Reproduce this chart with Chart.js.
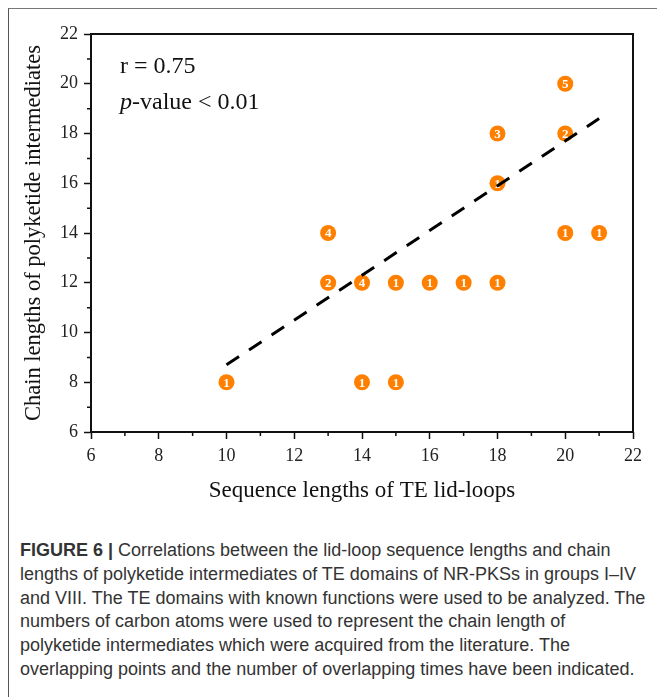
<!DOCTYPE html>
<html>
<head>
<meta charset="utf-8">
<script src="https://cdn.jsdelivr.net/npm/chart.js@4"></script>
<style>
  html, body { margin: 0; padding: 0; background: #fff; }
  #wrap { position: relative; width: 657px; height: 697px; overflow: hidden; }
  #frame { position: absolute; left: 8px; top: 8px; width: 660px; height: 700px;
           border-left: 1.5px solid #555; border-top: 1.5px solid #777; }
  #chart { position: absolute; left: 0; top: 0; }
  .note { position: absolute; left: 120px; font: 24px "Liberation Serif", serif; color: #111; white-space: nowrap; line-height: 26px; }
  #caption { position: absolute; left: 20px; top: 539px; font: 18px "Liberation Sans", sans-serif; color: #333; line-height: 23.8px; }
  #caption div { white-space: nowrap; }
</style>
</head>
<body>
<div id="wrap">
  <div id="frame"></div>
  <canvas id="chart" width="657" height="510"></canvas>
  <div class="note" style="top:52px">r = 0.75</div>
  <div class="note" style="top:88px"><i>p</i>-value &lt; 0.01</div>
  <div id="caption">
    <div><b>FIGURE 6 |</b> Correlations between the lid-loop sequence lengths and chain</div>
    <div>lengths of polyketide intermediates of TE domains of NR-PKSs in groups I–IV</div>
    <div>and VIII. The TE domains with known functions were used to be analyzed. The</div>
    <div>numbers of carbon atoms were used to represent the chain length of</div>
    <div>polyketide intermediates which were acquired from the literature. The</div>
    <div>overlapping points and the number of overlapping times have been indicated.</div>
  </div>
</div>
<script>
// lid-loop length (x), chain length (y), how many entries overlap at that point
const loopLengths  = [10, 14, 15, 13, 14, 15, 16, 17, 18, 13, 20, 21, 18, 18, 20, 20];
const chainLengths = [ 8,  8,  8, 12, 12, 12, 12, 12, 12, 14, 14, 14, 16, 18, 18, 20];
const overlapCounts = [1,  1,  1,  2,  4,  1,  1,  1,  1,  4,  1,  1,  1,  3,  2,  5];

// fitted line ends
const fitX = [10, 21];
const fitY = [8.7, 18.6];

const xTicks = [6, 8, 10, 12, 14, 16, 18, 20, 22];
const yTicks = [6, 8, 10, 12, 14, 16, 18, 20, 22];

const orange = "rgb(255,128,0)";
const serif = "'Liberation Serif', 'Times New Roman', serif";

const points = loopLengths.map((x, i) => ({x: x, y: chainLengths[i]}));
const fitLine = fitX.map((x, i) => ({x: x, y: fitY[i]}));

// numbers inside the circles, drawn right after the scatter so the dashed line sits on top
const countLabels = {
    id: "countLabels",
    afterDatasetDraw(chart, args) {
        if (args.index !== 1) return;
        const ctx = chart.ctx;
        ctx.save();
        ctx.fillStyle = "#fff";
        ctx.font = "bold 13px " + serif;
        ctx.textAlign = "center";
        ctx.textBaseline = "middle";
        args.meta.data.forEach((pt, i) => {
            ctx.fillText(String(overlapCounts[i]), pt.x, pt.y + 1);
        });
        ctx.restore();
    }
};

// box round the plot + short minor ticks at the odd values
const plotFrame = {
    id: "plotFrame",
    afterDraw(chart) {
        const {ctx, chartArea: a, scales} = chart;
        ctx.save();
        ctx.strokeStyle = "#111";
        ctx.lineWidth = 2;
        ctx.strokeRect(a.left, a.top, a.right - a.left, a.bottom - a.top);
        ctx.lineWidth = 1.5;
        ctx.beginPath();
        for (let v = 7; v < 22; v += 2) {
            const px = scales.x.getPixelForValue(v);
            ctx.moveTo(px, a.bottom);
            ctx.lineTo(px, a.bottom + 4);
            const py = scales.y.getPixelForValue(v);
            ctx.moveTo(a.left, py);
            ctx.lineTo(a.left - 4, py);
        }
        ctx.stroke();
        ctx.restore();
    }
};

new Chart(document.getElementById("chart"), {
    type: "scatter",
    data: {
        datasets: [
            {
                type: "line",
                label: "fit",
                data: fitLine,
                borderColor: "#000",
                borderWidth: 3,
                borderDash: [15, 12],
                pointRadius: 0,
                fill: false
            },
            {
                label: "TE domains",
                data: points,
                backgroundColor: orange,
                borderColor: orange,
                borderWidth: 0,
                pointRadius: 8,
                pointHoverRadius: 8
            }
        ]
    },
    options: {
        responsive: false,
        devicePixelRatio: 1,
        animation: false,
        layout: {padding: {top: 34, right: 24, left: 0, bottom: 0}},
        plugins: {legend: {display: false}, tooltip: {enabled: false}},
        scales: {
            x: {
                type: "linear",
                min: 6, max: 22,
                afterBuildTicks: s => { s.ticks = xTicks.map(v => ({value: v})); },
                afterFit: s => { s.height = 78; },
                grid: {drawOnChartArea: false, drawTicks: true, tickLength: 7, tickColor: "#111", tickWidth: 1.5},
                border: {display: false},
                ticks: {color: "#222", padding: 6, font: {family: serif, size: 18}},
                title: {display: true, text: "Sequence lengths of TE lid-loops", color: "#111",
                        font: {family: serif, size: 23}, padding: {top: 4, bottom: 5}}
            },
            y: {
                type: "linear",
                min: 6, max: 22,
                afterBuildTicks: s => { s.ticks = yTicks.map(v => ({value: v})); },
                afterFit: s => { s.width = 91; },
                grid: {drawOnChartArea: false, drawTicks: true, tickLength: 7, tickColor: "#111", tickWidth: 1.5},
                border: {display: false},
                ticks: {color: "#222", padding: 6, font: {family: serif, size: 18}},
                title: {display: true, text: "Chain lengths of polyketide intermediates", color: "#111",
                        font: {family: serif, size: 22.5}, padding: {top: 21, bottom: 4}}
            }
        }
    },
    plugins: [countLabels, plotFrame]
});
</script>
</body>
</html>
